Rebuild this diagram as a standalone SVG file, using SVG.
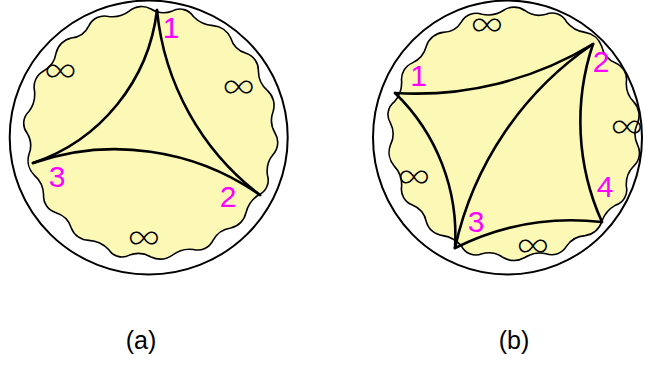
<svg xmlns="http://www.w3.org/2000/svg" xmlns:xlink="http://www.w3.org/1999/xlink" width="645" height="367" viewBox="0 0 645 367">
  <style>
    .rim { fill: #ffffff; stroke: #000000; stroke-width: 2; }
    .blob { fill: #fcf9b6; stroke: #000000; stroke-width: 1.6; stroke-linejoin: round; }
    .geo { fill: none; stroke: #000000; stroke-width: 2.6; stroke-linecap: round; }
    .num { font-family: "Liberation Sans", Arial, sans-serif; font-size: 30px; fill: #ff00ff; text-anchor: middle; }
    .inf { font-family: Inter, Roboto, "Liberation Sans", sans-serif; font-weight: 200; font-size: 36px; fill: #000000; text-anchor: middle; }
    .cap { font-family: "Liberation Sans", Arial, sans-serif; font-size: 25px; fill: #000000; text-anchor: middle; }
  </style>
  <defs>
    <!-- wavy region: 36 arcs on a circle of radius 124, alternating outward and inward -->
    <path id="cloud" d="M124,0
      A18 18 0 0 1 122.1,21.5 A26 26 0 0 0 116.5,42.4 A16 16 0 0 1 107.4,62 A30 30 0 0 0 95,79.7
      A20 20 0 0 1 79.7,95 A24 24 0 0 0 62,107.4 A17 17 0 0 1 42.4,116.5 A28 28 0 0 0 21.5,122.1
      A22 22 0 0 1 0,124 A25 25 0 0 0 -21.5,122.1 A16 16 0 0 1 -42.4,116.5 A30 30 0 0 0 -62,107.4
      A19 19 0 0 1 -79.7,95 A23 23 0 0 0 -95,79.7 A17 17 0 0 1 -107.4,62 A27 27 0 0 0 -116.5,42.4
      A21 21 0 0 1 -122.1,21.5 A24 24 0 0 0 -124,0 A16 16 0 0 1 -122.1,-21.5 A29 29 0 0 0 -116.5,-42.4
      A18 18 0 0 1 -107.4,-62 A25 25 0 0 0 -95,-79.7 A20 20 0 0 1 -79.7,-95 A22 22 0 0 0 -62,-107.4
      A17 17 0 0 1 -42.4,-116.5 A28 28 0 0 0 -21.5,-122.1 A19 19 0 0 1 0,-124 A24 24 0 0 0 21.5,-122.1
      A16 16 0 0 1 42.4,-116.5 A30 30 0 0 0 62,-107.4 A21 21 0 0 1 79.7,-95 A23 23 0 0 0 95,-79.7
      A18 18 0 0 1 107.4,-62 A26 26 0 0 0 116.5,-42.4 A20 20 0 0 1 122.1,-21.5 A25 25 0 0 0 124,0 Z"/>
  </defs>

  <!-- panel (a): ideal triangle -->
  <g id="disk-a">
    <ellipse class="rim" cx="148.7" cy="137.5" rx="139" ry="137"/>
    <use xlink:href="#cloud" href="#cloud" class="blob" transform="translate(151,133)"/>
  </g>
  <g id="geodesics-a">
    <path class="geo" d="M157,10 A184 184 0 0 1 33,163"/>
    <path class="geo" d="M33,163 A252 252 0 0 1 260,195"/>
    <path class="geo" d="M260,195 A264 264 0 0 1 157,10"/>
  </g>
  <g id="labels-a">
    <text class="num" x="171" y="37.5">1</text>
    <text class="num" x="228" y="206.5">2</text>
    <text class="num" x="57" y="186.5">3</text>
    <text class="inf" x="60.5" y="82">∞</text>
    <text class="inf" x="238.7" y="97.5">∞</text>
    <text class="inf" x="144" y="249">∞</text>
    <text class="cap" x="141" y="348.5">(a)</text>
  </g>

  <!-- panel (b): ideal quadrilateral split by a diagonal -->
  <g id="disk-b">
    <ellipse class="rim" cx="507.5" cy="137.5" rx="134.5" ry="137"/>
    <use xlink:href="#cloud" href="#cloud" class="blob" transform="translate(514,134) rotate(5)"/>
  </g>
  <g id="geodesics-b">
    <path class="geo" d="M395,93 A340 340 0 0 0 593,44"/>
    <path class="geo" d="M593,44 A244 244 0 0 0 602,222"/>
    <path class="geo" d="M602,222 A261 261 0 0 0 455,248"/>
    <path class="geo" d="M455,248 A198 198 0 0 0 395,93"/>
    <path class="geo" d="M455,248 A332 332 0 0 1 593,44"/>
  </g>
  <g id="labels-b">
    <text class="num" x="418.5" y="86">1</text>
    <text class="num" x="601" y="71.5">2</text>
    <text class="num" x="476" y="231.5">3</text>
    <text class="num" x="605" y="196.5">4</text>
    <text class="inf" x="487" y="35.5">∞</text>
    <text class="inf" x="627" y="137.5">∞</text>
    <text class="inf" x="414" y="187.5">∞</text>
    <text class="inf" x="533" y="257">∞</text>
    <text class="cap" x="514" y="349">(b)</text>
  </g>
</svg>
